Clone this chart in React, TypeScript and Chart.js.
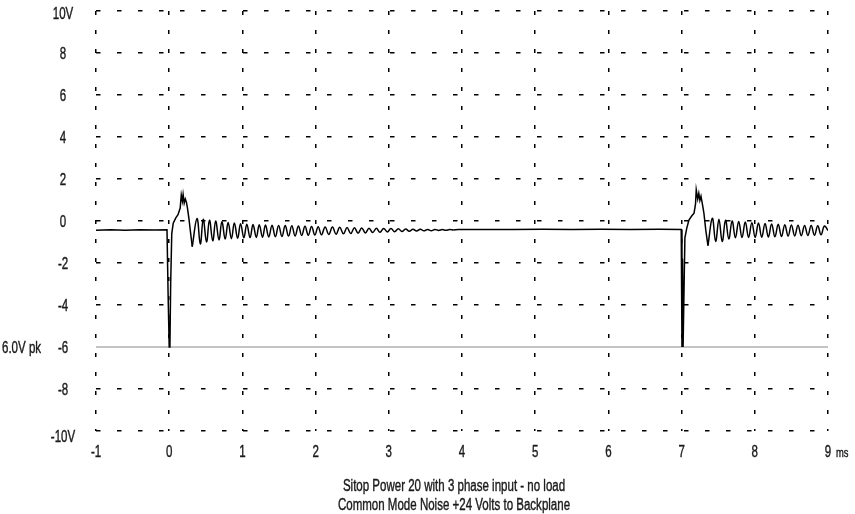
import React, { useEffect, useRef } from 'react';
import { Chart, registerables } from 'chart.js';

Chart.register(...registerables);

// ---- axis / text data ----
const X_MIN = -1;
const X_MAX = 9;
const X_STEP = 1;
const Y_MIN = -10;
const Y_MAX = 10;
const Y_STEP = 2;
const X_UNIT = 'ms';
const Y_UNIT = 'V';
const PEAK_LEVEL = -6;
const PEAK_LABEL = '6.0V pk';
const TITLE_LINES = [
  'Sitop Power 20 with 3 phase input - no load',
  'Common Mode Noise +24 Volts to Backplane',
];

// ---- waveform data (time ms, volts) ----
const baselineBefore: [number, number][] = [
  [-1, -0.44], [-0.8, -0.42], [-0.6, -0.44], [-0.4, -0.42], [-0.2, -0.43], [-0.03, -0.42],
];

const spike1: [number, number][] = [
  [-0.015, -3.5], [0.0, -6.0], [0.01, -5.95], [0.02, -3.0], [0.035, -0.6], [0.055, -0.1],
  [0.09, 0.15], [0.12, 0.3], [0.15, 0.62], [0.165, 1.24], [0.18, 0.95], [0.19, 1.26],
  [0.205, 0.85], [0.22, 1.05], [0.235, 0.9], [0.25, 0.6], [0.27, 0.1], [0.29, -0.5],
  [0.315, -1.22],
];

const ring1: [number, number][] = [
  [0.38, 0.12], [0.425, -1.10], [0.465, 0.08], [0.51, -1.00], [0.55, 0.04],
  [0.595, -0.94], [0.635, 0.0], [0.68, -0.90], [0.72, -0.04], [0.765, -0.86], [0.805, -0.07],
  [0.85, -0.84], [0.89, -0.10], [0.935, -0.82], [0.975, -0.13], [1.02, -0.80], [1.06, -0.15],
  [1.105, -0.79], [1.145, -0.17], [1.19, -0.78], [1.23, -0.18], [1.275, -0.77], [1.315, -0.19],
  [1.36, -0.76], [1.405, -0.20], [1.45, -0.75], [1.495, -0.21], [1.54, -0.74], [1.585, -0.22],
  [1.63, -0.72], [1.675, -0.23], [1.72, -0.71], [1.765, -0.24], [1.81, -0.69], [1.855, -0.25],
  [1.9, -0.68], [1.945, -0.26], [1.99, -0.67], [2.035, -0.27], [2.08, -0.66], [2.13, -0.28],
  [2.18, -0.64], [2.23, -0.29], [2.28, -0.63], [2.33, -0.30], [2.38, -0.61], [2.43, -0.31],
  [2.48, -0.60], [2.53, -0.32], [2.58, -0.58], [2.63, -0.33], [2.68, -0.57], [2.73, -0.34],
  [2.78, -0.55], [2.83, -0.35], [2.88, -0.54], [2.93, -0.36], [2.98, -0.52], [3.03, -0.36],
  [3.08, -0.51], [3.13, -0.37], [3.18, -0.50], [3.23, -0.38], [3.28, -0.49], [3.33, -0.39],
  [3.38, -0.48], [3.43, -0.39], [3.48, -0.47], [3.53, -0.40], [3.58, -0.46], [3.63, -0.40],
  [3.68, -0.45], [3.73, -0.41], [3.78, -0.44], [3.83, -0.41], [3.88, -0.43],
];

const quiet: [number, number][] = [
  [3.95, -0.41], [4.3, -0.40], [4.7, -0.41], [5.1, -0.39], [5.5, -0.40], [5.9, -0.39],
  [6.3, -0.40], [6.7, -0.39], [6.995, -0.40],
];

const spike2: [number, number][] = [
  [7.005, -6.0], [7.012, -1.8], [7.02, -6.0], [7.03, -6.0], [7.045, -0.8], [7.07, -0.35],
  [7.1, 0.05], [7.14, 0.25], [7.17, 0.37], [7.19, 0.8], [7.2, 1.48], [7.22, 1.05],
  [7.235, 1.32], [7.25, 0.98], [7.265, 1.18], [7.29, 0.68], [7.305, 0.37], [7.33, -0.43],
  [7.36, -1.17],
];

const ring2: [number, number][] = [
  [7.42, 0.13], [7.465, -0.98], [7.51, 0.08], [7.555, -0.98], [7.6, 0.04],
  [7.645, -0.86], [7.69, 0.0], [7.735, -0.80], [7.78, -0.02], [7.825, -0.78], [7.87, -0.05],
  [7.915, -0.78], [7.96, -0.08], [8.005, -0.78], [8.05, -0.10], [8.095, -0.77], [8.14, -0.12],
  [8.185, -0.76], [8.23, -0.14], [8.275, -0.75], [8.32, -0.16], [8.365, -0.74], [8.41, -0.18],
  [8.455, -0.72], [8.5, -0.19], [8.545, -0.71], [8.59, -0.20], [8.635, -0.70], [8.68, -0.21],
  [8.725, -0.69], [8.77, -0.22], [8.815, -0.68], [8.86, -0.23], [8.905, -0.66], [8.95, -0.24],
  [9.0, -0.45],
];

const FONT = "'Liberation Sans', Arial, sans-serif";
const TEXT_COLOR = '#1a1a1a';
const SQUEEZE = 0.72; // condensed look of the original lettering
const FONT_SIZE = 16;

const toPoints = (arr: [number, number][]) => arr.map(([x, y]) => ({ x, y }));

function drawText(ctx: CanvasRenderingContext2D, text: string, x: number, y: number, align: CanvasTextAlign, size: number) {
  ctx.save();
  ctx.font = `${size}px ${FONT}`;
  ctx.fillStyle = TEXT_COLOR;
  ctx.strokeStyle = TEXT_COLOR;
  ctx.lineWidth = 0.4;
  ctx.textAlign = align;
  ctx.textBaseline = 'alphabetic';
  ctx.translate(x, y);
  ctx.scale(SQUEEZE, 1);
  ctx.fillText(text, 0, 0);
  ctx.strokeText(text, 0, 0);
  ctx.restore();
}

const labelPlugin = {
  id: 'labelPlugin',
  afterDraw(chart: any) {
    const { ctx, scales } = chart;
    const xs = scales.x;
    const ys = scales.y;
    ys.ticks.forEach((t: any) => {
      const v = t.value;
      const label = Math.abs(v) === Y_MAX ? `${v}${Y_UNIT}` : String(v);
      let off = 6;
      if (v === Y_MAX) off = 8;
      if (v === Y_MIN) off = 11;
      drawText(ctx, label, 63, ys.getPixelForValue(v) + off, 'center', FONT_SIZE);
    });
    xs.ticks.forEach((t: any) => {
      drawText(ctx, String(t.value), xs.getPixelForValue(t.value), xs.top + 26, 'center', FONT_SIZE);
    });
    drawText(ctx, X_UNIT, xs.getPixelForValue(X_MAX) + 8, xs.top + 26, 'left', 13);
    drawText(ctx, PEAK_LABEL, 2, ys.getPixelForValue(PEAK_LEVEL) + 6, 'left', FONT_SIZE);
    drawText(ctx, TITLE_LINES[0], 454, 491, 'center', FONT_SIZE);
    drawText(ctx, TITLE_LINES[1], 454, 509.5, 'center', FONT_SIZE);
  },
};

export default function App() {
  const ref = useRef<HTMLCanvasElement>(null);
  useEffect(() => {
    const seg1 = [...baselineBefore, ...spike1];
    const seg2 = [seg1[seg1.length - 1], ...ring1];
    const seg3 = [seg2[seg2.length - 1], ...quiet, ...spike2];
    const seg4 = [seg3[seg3.length - 1], ...ring2];
    const wave = (pts: [number, number][], tension: number) => ({
      data: toPoints(pts),
      showLine: true,
      borderColor: '#000',
      borderWidth: 1.5,
      pointRadius: 0,
      tension,
      order: 1,
    });
    const chart = new Chart(ref.current as HTMLCanvasElement, {
      type: 'scatter',
      data: {
        datasets: [
          wave(seg1, 0),
          wave(seg2, 0.4),
          wave(seg3, 0),
          wave(seg4, 0.4),
          {
            data: toPoints([[X_MIN, PEAK_LEVEL], [X_MAX, PEAK_LEVEL]]),
            showLine: true,
            borderColor: '#c4c4c4',
            borderWidth: 2,
            pointRadius: 0,
            order: 2,
          },
        ],
      },
      options: {
        responsive: false,
        animation: false,
        devicePixelRatio: 1,
        layout: { padding: { left: 0, right: 27, top: 11, bottom: 0 } },
        plugins: {
          legend: { display: false },
          tooltip: { enabled: false },
          title: { display: false },
        },
        scales: {
          x: {
            type: 'linear',
            min: X_MIN,
            max: X_MAX,
            border: { display: false, dash: [4, 15] },
            grid: { color: '#000', lineWidth: 1.5, drawTicks: false, borderDash: [4, 15] } as any,
            ticks: { stepSize: X_STEP, autoSkip: false, display: false },
            afterFit: (s: any) => { s.height = 83; s.paddingLeft = 0; s.paddingRight = 0; },
          },
          y: {
            type: 'linear',
            min: Y_MIN,
            max: Y_MAX,
            border: { display: false, dash: [4.5, 16.5] },
            grid: { color: '#000', lineWidth: 1.5, drawTicks: false, borderDash: [4.5, 16.5] } as any,
            ticks: { stepSize: Y_STEP, display: false },
            afterFit: (s: any) => { s.width = 96; s.paddingTop = 0; s.paddingBottom = 0; },
          },
        },
      },
      plugins: [labelPlugin],
    });
    return () => chart.destroy();
  }, []);

  return (
    <div style={{ position: 'absolute', left: 0, top: 0, width: 855, height: 514, background: '#fff' }}>
      <canvas ref={ref} width={855} height={514} style={{ display: 'block', width: 855, height: 514 }} />
    </div>
  );
}
